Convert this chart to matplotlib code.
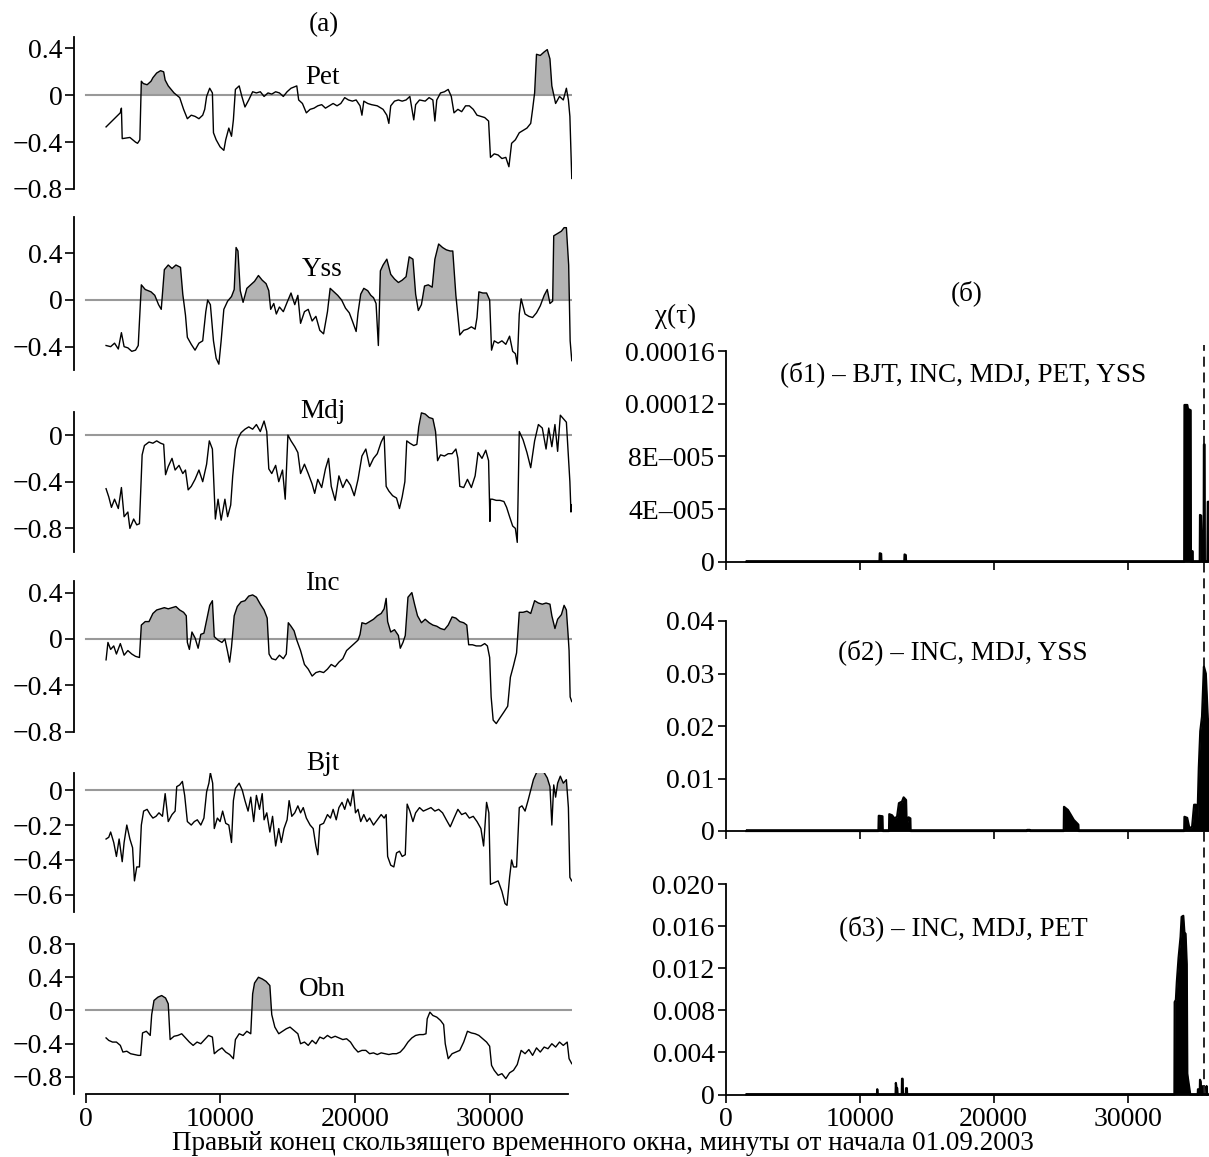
import numpy as np
import matplotlib
matplotlib.use("Agg")
import matplotlib.pyplot as plt
from matplotlib import transforms
from matplotlib.lines import Line2D

plt.rcParams['font.family'] = ['Liberation Serif', 'DejaVu Serif']

# ---------------- data: (minutes, correlation) ----------------
PET = [(1510,-0.27),(2565,-0.15),(2650,-0.11),(2710,-0.37),(3280,-0.36),(3700,-0.40),(3850,-0.41),(4020,-0.38),(4130,0.12),(4280,0.10),
       (4560,0.09),(4850,0.12),(4990,0.15),(5270,0.19),(5560,0.21),(5790,0.20),(5900,0.13),(6130,0.08),(6560,0.02),(6980,-0.02),
       (7270,-0.12),(7550,-0.20),(7840,-0.17),(8120,-0.18),(8410,-0.20),(8690,-0.17),(8840,-0.12),(8980,-0.01),(9210,0.06),(9410,0.02),
       (9490,-0.32),(9690,-0.38),(9980,-0.44),(10260,-0.47),(10400,-0.38),(10630,-0.28),(10830,-0.35),(10970,-0.21),(11120,0.05),(11400,0.08),
       (11600,-0.01),(11830,-0.10),(12110,-0.04),(12400,0.03),(12680,0.02),(12970,0.03),(13250,-0.01),(13540,0.02),(13820,0.01),(14110,0.03),
       (14390,0.02),(14680,-0.01),(14960,0.03),(15250,0.06),(15680,0.08),(15820,-0.04),(16100,-0.07),(16390,-0.15),(16670,-0.12),(16960,-0.11),
       (17240,-0.09),(17530,-0.08),(17810,-0.11),(18100,-0.09),(18380,-0.07),(18670,-0.09),(18950,-0.07),(19240,-0.02),(19520,-0.04),(19810,-0.05),
       (20090,-0.04),(20380,-0.09),(20520,-0.17),(20660,-0.05),(20950,-0.07),(21230,-0.08),(21660,-0.09),(22090,-0.12),(22370,-0.17),(22520,-0.24),
       (22660,-0.09),(22940,-0.05),(23230,-0.04),(23510,-0.05),(23800,-0.04),(24080,-0.01),(24370,-0.21),(24510,-0.08),(24800,-0.04),(25220,-0.05),
       (25510,-0.02),(25790,-0.04),(25940,-0.22),(26080,-0.04),(26360,0.02),(26650,0.03),(26930,0.05),(27160,-0.01),(27360,-0.15),(27650,-0.12),
       (27930,-0.14),(28220,-0.09),(28500,-0.09),(28790,-0.12),(29070,-0.17),(29360,-0.18),(29640,-0.19),(29930,-0.22),(30070,-0.53),(30350,-0.50),
       (30640,-0.51),(30920,-0.54),(31210,-0.53),(31440,-0.61),(31640,-0.41),(31920,-0.38),(32210,-0.32),(32490,-0.30),(32780,-0.28),(33060,-0.24),
       (33200,-0.12),(33350,0.02),(33490,0.35),(33770,0.34),(34060,0.37),(34290,0.39),(34490,0.31),(34630,0.08),(34910,-0.07),(35200,-0.01),
       (35480,-0.04),(35710,0.06),(35860,-0.04),(35970,-0.18),(36050,-0.47),(36110,-0.71)]

YSS = [(1510,-0.39),(1850,-0.40),(2140,-0.37),(2420,-0.42),(2650,-0.28),(2850,-0.40),(3130,-0.41),(3420,-0.44),(3700,-0.43),(3900,-0.39),
       (4130,0.13),(4420,0.09),(4850,0.07),(5130,0.04),(5410,-0.04),(5610,-0.08),(5840,0.26),(6130,0.30),(6410,0.27),(6700,0.30),
       (7040,0.28),(7210,0.05),(7410,-0.13),(7550,-0.32),(7840,-0.38),(8120,-0.43),(8410,-0.37),(8690,-0.35),(8920,-0.10),(9060,0.0),
       (9260,-0.04),(9490,-0.35),(9690,-0.50),(9890,-0.55),(10060,-0.35),(10260,-0.08),(10540,-0.01),(10830,0.03),(11030,0.09),(11170,0.45),
       (11310,0.42),(11480,0.08),(11690,-0.02),(11970,0.10),(12260,0.13),(12540,0.16),(12830,0.21),(13110,0.17),(13400,0.14),(13600,0.08),
       (13740,-0.08),(13970,-0.03),(14160,-0.12),(14390,-0.06),(14680,-0.10),(14960,-0.02),(15250,0.06),(15530,-0.04),(15760,0.04),(15960,-0.20),
       (16250,-0.10),(16530,-0.08),(16820,-0.18),(17100,-0.14),(17390,-0.26),(17670,-0.29),(17960,-0.10),(18160,0.10),(18440,0.07),(18720,0.04),
       (19010,0.0),(19300,-0.07),(19580,-0.11),(19810,-0.18),(20090,-0.27),(20230,-0.11),(20430,0.05),(20660,0.10),(20950,0.08),(21180,0.04),
       (21380,0.02),(21570,-0.03),(21740,-0.39),(21890,0.25),(22090,0.30),(22370,0.35),(22660,0.22),(22940,0.18),(23230,0.15),(23510,0.17),
       (23800,0.20),(24030,0.37),(24310,0.35),(24510,0.05),(24710,-0.09),(24940,-0.04),(25170,0.12),(25450,0.13),(25740,0.11),(25940,0.35),
       (26220,0.48),(26510,0.45),(26790,0.43),(27080,0.42),(27270,0.42),(27500,0.04),(27790,-0.30),(28080,-0.26),(28360,-0.25),(28650,-0.23),
       (28930,-0.25),(29070,-0.15),(29210,0.07),(29500,0.06),(29780,0.06),(30010,0.0),(30150,-0.43),(30350,-0.35),(30640,-0.37),(30920,-0.35),
       (31210,-0.38),(31490,-0.31),(31720,-0.44),(31920,-0.46),(32060,-0.55),(32210,-0.12),(32350,0.01),(32640,-0.12),(32920,-0.14),(33200,-0.15),
       (33490,-0.11),(33770,-0.05),(34060,0.04),(34290,0.09),(34490,-0.03),(34690,-0.01),(34770,0.55),(35060,0.57),(35340,0.59),(35540,0.62),
       (35710,0.62),(35880,0.30),(35990,-0.35),(36110,-0.52)]

MDJ = [(1510,-0.46),(1710,-0.53),(1910,-0.62),(2140,-0.55),(2420,-0.63),(2650,-0.45),(2850,-0.70),(3130,-0.66),(3280,-0.80),(3560,-0.72),
       (3790,-0.77),(3990,-0.76),(4190,-0.17),(4360,-0.09),(4700,-0.06),(4990,-0.07),(5270,-0.05),(5560,-0.07),(5790,-0.08),(5930,-0.34),
       (6130,-0.27),(6410,-0.20),(6640,-0.30),(6930,-0.26),(7210,-0.33),(7410,-0.30),(7610,-0.47),(7840,-0.44),(8120,-0.38),(8410,-0.30),
       (8690,-0.40),(8980,-0.25),(9180,-0.05),(9410,-0.12),(9630,-0.72),(9830,-0.55),(10060,-0.73),(10340,-0.55),(10540,-0.70),(10770,-0.60),
       (10920,-0.35),(11120,-0.12),(11310,-0.03),(11540,0.02),(11830,0.05),(12110,0.07),(12400,0.05),(12680,0.09),(12970,0.03),(13250,0.12),
       (13450,0.03),(13600,-0.29),(13820,-0.33),(14110,-0.26),(14340,-0.40),(14620,-0.30),(14820,-0.55),(15020,0.0),(15250,-0.05),(15530,-0.10),
       (15760,-0.15),(15960,-0.33),(16250,-0.25),(16530,-0.33),(16820,-0.42),(17010,-0.50),(17240,-0.38),(17530,-0.45),(17810,-0.29),(18040,-0.20),
       (18240,-0.44),(18530,-0.56),(18810,-0.35),(19100,-0.45),(19380,-0.38),(19670,-0.43),(19950,-0.52),(20230,-0.38),(20520,-0.18),(20810,-0.12),
       (21090,-0.27),(21380,-0.20),(21660,-0.16),(21950,-0.06),(22170,-0.01),(22320,-0.44),(22520,-0.48),(22800,-0.52),(23090,-0.54),(23310,-0.63),
       (23510,-0.53),(23710,-0.40),(23850,-0.05),(24080,-0.07),(24370,-0.09),(24600,-0.08),(24740,0.07),(24940,0.19),(25220,0.18),(25510,0.15),
       (25790,0.14),(25990,0.03),(26140,-0.22),(26360,-0.17),(26650,-0.18),(26930,-0.16),(27220,-0.16),(27500,-0.12),(27650,-0.20),(27790,-0.44),
       (28080,-0.45),(28360,-0.38),(28650,-0.45),(28930,-0.35),(29150,-0.15),(29440,-0.20),(29720,-0.13),(29930,-0.22),(30030,-0.74),(30070,-0.55),
       (30210,-0.55),(30500,-0.56),(30780,-0.56),(31070,-0.57),(31270,-0.62),(31490,-0.70),(31720,-0.78),(31920,-0.80),(32060,-0.92),(32210,0.03),
       (32490,-0.04),(32780,-0.15),(33060,-0.28),(33350,-0.05),(33630,0.09),(33920,0.06),(34200,-0.12),(34400,0.06),(34630,-0.10),(34860,0.09),
       (35060,-0.14),(35260,0.17),(35480,0.14),(35710,0.11),(35860,-0.18),(35970,-0.40),(36050,-0.66),(36110,-0.60)]

INC = [(1510,-0.18),(1650,-0.03),(1850,-0.09),(2080,-0.06),(2280,-0.13),(2570,-0.04),(2850,-0.14),(3130,-0.10),(3420,-0.13),(3700,-0.15),
       (3990,-0.16),(4130,0.12),(4420,0.15),(4700,0.15),(4990,0.22),(5270,0.25),(5560,0.26),(5840,0.27),(6130,0.26),(6410,0.27),
       (6700,0.28),(6980,0.25),(7270,0.23),(7470,0.20),(7550,-0.03),(7700,-0.09),(7890,0.06),(8120,0.01),(8350,-0.08),(8550,0.04),
       (8780,0.05),(8980,0.16),(9210,0.29),(9410,0.33),(9550,0.02),(9830,-0.01),(10120,-0.03),(10340,0.0),(10540,-0.11),(10690,-0.20),
       (10830,-0.07),(11030,0.20),(11260,0.28),(11540,0.32),(11830,0.33),(12110,0.37),(12400,0.38),(12680,0.36),(12970,0.30),(13250,0.25),
       (13480,0.18),(13620,-0.13),(13820,-0.17),(14110,-0.18),(14390,-0.14),(14680,-0.17),(14900,-0.13),(15050,0.14),(15250,0.11),(15480,0.07),
       (15680,-0.01),(15960,-0.10),(16250,-0.22),(16530,-0.26),(16820,-0.32),(17100,-0.29),(17390,-0.28),(17670,-0.29),(17960,-0.26),(18240,-0.22),
       (18530,-0.24),(18810,-0.20),(19100,-0.17),(19380,-0.10),(19670,-0.07),(19950,-0.04),(20230,-0.01),(20380,0.04),(20520,0.14),(20810,0.13),
       (21090,0.15),(21380,0.17),(21660,0.20),(21950,0.22),(22170,0.26),(22320,0.35),(22430,0.15),(22660,0.06),(22940,0.08),(23230,0.03),
       (23370,-0.08),(23570,-0.03),(23740,0.03),(23940,0.36),(24230,0.40),(24430,0.30),(24650,0.20),(24940,0.14),(25220,0.17),(25510,0.14),
       (25790,0.12),(26080,0.11),(26360,0.09),(26650,0.08),(26930,0.12),(27220,0.19),(27500,0.18),(27790,0.15),(28080,0.14),(28310,0.12),
       (28450,-0.05),(28730,-0.05),(29010,-0.06),(29360,-0.06),(29640,-0.04),(29840,-0.06),(30010,-0.16),(30120,-0.50),(30270,-0.70),(30500,-0.73),
       (30780,-0.68),(31070,-0.63),(31350,-0.58),(31550,-0.33),(31780,-0.23),(32010,-0.12),(32210,0.23),(32490,0.23),(32780,0.24),(33060,0.22),
       (33350,0.33),(33630,0.31),(33920,0.30),(34200,0.31),(34490,0.30),(34630,0.20),(34860,0.09),(35060,0.17),(35340,0.21),(35540,0.29),
       (35710,0.25),(35830,0.05),(35910,-0.10),(35990,-0.50),(36110,-0.54)]

BJT = [(1510,-0.28),(1710,-0.27),(1850,-0.24),(2080,-0.30),(2280,-0.38),(2480,-0.28),(2710,-0.41),(2850,-0.30),(3050,-0.20),(3280,-0.28),
       (3480,-0.33),(3620,-0.52),(3790,-0.44),(3990,-0.44),(4130,-0.20),(4300,-0.12),(4560,-0.11),(4790,-0.14),(4990,-0.16),(5220,-0.15),
       (5440,-0.13),(5700,-0.15),(5900,-0.02),(6130,-0.18),(6410,-0.14),(6640,-0.12),(6760,0.02),(6980,0.03),(7180,0.05),(7350,-0.03),
       (7550,-0.18),(7840,-0.20),(8070,-0.18),(8290,-0.17),(8550,-0.20),(8780,-0.16),(8980,-0.01),(9150,0.04),(9260,0.10),(9430,0.04),
       (9550,-0.22),(9780,-0.16),(9980,-0.18),(10170,-0.12),(10400,-0.19),(10630,-0.20),(10830,-0.30),(10970,-0.06),(11120,0.01),(11400,0.04),
       (11630,0.0),(11830,-0.06),(12060,-0.12),(12260,-0.04),(12480,-0.18),(12680,-0.03),(12910,-0.11),(13110,-0.02),(13250,-0.17),(13450,-0.13),
       (13680,-0.24),(13880,-0.15),(14110,-0.32),(14340,-0.22),(14530,-0.30),(14730,-0.22),(14960,-0.17),(15110,-0.06),(15310,-0.15),(15530,-0.13),
       (15760,-0.09),(15960,-0.13),(16160,-0.10),(16390,-0.16),(16670,-0.20),(16900,-0.22),(17100,-0.32),(17240,-0.37),(17390,-0.20),(17670,-0.19),
       (17960,-0.14),(18180,-0.16),(18380,-0.11),(18610,-0.17),(18810,-0.10),(19040,-0.07),(19240,-0.11),(19460,-0.05),(19670,-0.09),(19870,0.00),
       (20040,-0.13),(20230,-0.11),(20430,-0.18),(20660,-0.14),(20890,-0.18),(21090,-0.16),(21380,-0.20),(21660,-0.17),(21950,-0.14),(22170,-0.16),
       (22320,-0.14),(22430,-0.38),(22660,-0.43),(22890,-0.44),(23090,-0.36),(23310,-0.35),(23510,-0.38),(23740,-0.37),(23880,-0.08),(24080,-0.12),
       (24310,-0.18),(24510,-0.13),(24800,-0.10),(25080,-0.12),(25370,-0.11),(25650,-0.10),(25940,-0.12),(26220,-0.11),(26510,-0.13),(26790,-0.17),
       (27080,-0.21),(27360,-0.16),(27650,-0.11),(27930,-0.14),(28220,-0.13),(28500,-0.16),(28790,-0.15),(29070,-0.18),(29360,-0.22),(29560,-0.32),
       (29780,-0.07),(29950,-0.13),(30070,-0.54),(30350,-0.53),(30640,-0.52),(30920,-0.58),(31150,-0.65),(31300,-0.66),(31490,-0.50),(31640,-0.40),
       (31780,-0.44),(32010,-0.44),(32210,-0.10),(32410,-0.09),(32640,-0.12),(32860,-0.06),(33060,0.00),(33260,0.06),(33490,0.10),(33770,0.11),
       (34060,0.10),(34290,0.07),(34490,0.02),(34630,-0.20),(34770,0.03),(34910,-0.04),(35060,0.04),(35260,0.08),(35480,0.04),(35710,0.06),
       (35860,-0.10),(35970,-0.50),(36110,-0.52)]

OBN = [(1510,-0.33),(1710,-0.36),(1990,-0.38),(2280,-0.38),(2570,-0.42),(2760,-0.50),(3050,-0.49),(3330,-0.52),(3620,-0.53),(3900,-0.54),
       (4080,-0.54),(4220,-0.27),(4500,-0.25),(4790,-0.30),(4900,-0.05),(5070,0.12),(5360,0.16),(5640,0.18),(5930,0.15),(6130,0.08),
       (6270,-0.35),(6560,-0.31),(6840,-0.30),(7130,-0.28),(7410,-0.33),(7700,-0.38),(7980,-0.42),(8270,-0.38),(8550,-0.40),(8840,-0.35),
       (9120,-0.30),(9410,-0.32),(9550,-0.52),(9830,-0.48),(10120,-0.45),(10400,-0.50),(10690,-0.53),(10970,-0.58),(11120,-0.35),(11400,-0.28),
       (11690,-0.30),(11970,-0.25),(12260,-0.28),(12400,0.20),(12540,0.33),(12830,0.40),(13110,0.38),(13400,0.35),(13680,0.30),(13820,-0.05),
       (14050,-0.20),(14340,-0.28),(14620,-0.25),(14900,-0.22),(15180,-0.20),(15470,-0.24),(15760,-0.28),(15960,-0.40),(16250,-0.38),(16530,-0.42),
       (16820,-0.36),(17100,-0.40),(17390,-0.32),(17670,-0.34),(17960,-0.30),(18240,-0.33),(18530,-0.31),(18810,-0.33),(19100,-0.35),(19380,-0.34),
       (19670,-0.38),(19950,-0.45),(20230,-0.50),(20520,-0.48),(20810,-0.48),(21090,-0.52),(21380,-0.51),(21660,-0.53),(21950,-0.51),(22230,-0.52),
       (22520,-0.53),(22800,-0.52),(23090,-0.52),(23370,-0.50),(23650,-0.45),(23940,-0.38),(24230,-0.33),(24510,-0.30),(24800,-0.29),(25080,-0.29),
       (25280,-0.28),(25370,-0.10),(25570,-0.02),(25790,-0.06),(26080,-0.08),(26360,-0.12),(26590,-0.17),(26710,-0.40),(26930,-0.58),(27220,-0.52),
       (27500,-0.50),(27790,-0.48),(28080,-0.38),(28360,-0.25),(28650,-0.27),(28930,-0.28),(29210,-0.30),(29500,-0.34),(29780,-0.38),(30010,-0.43),
       (30150,-0.66),(30350,-0.72),(30640,-0.78),(30920,-0.76),(31210,-0.82),(31490,-0.75),(31780,-0.72),(32060,-0.65),(32350,-0.48),(32640,-0.52),
       (32920,-0.47),(33200,-0.54),(33490,-0.45),(33770,-0.50),(34060,-0.44),(34340,-0.46),(34630,-0.40),(34910,-0.44),(35200,-0.38),(35480,-0.42),
       (35770,-0.38),(35910,-0.58),(36110,-0.64)]

# intervals in which positive correlation is shaded
PET_FILL = [(4100, 6700), (33300, 34700)]
YSS_FILL = [(0, 37000)]
MDJ_FILL = [(24700, 26100)]
INC_FILL = [(0, 37000)]
BJT_FILL = [(32900, 36000)]
OBN_FILL = [(4900, 6300), (12400, 13820)]

LEFT_NAMES = ["Pet", "Yss", "Mdj", "Inc", "Bjt", "Obn"]
LEFT_YLIM = [(-0.8, 0.5), (-0.6, 0.714), (-1.0, 0.2), (-0.8, 0.5), (-0.7, 0.1), (-1.0, 0.8)]
LEFT_TICKS = [[0.4, 0, -0.4, -0.8], [0.4, 0, -0.4], [0, -0.4, -0.8], [0.4, 0, -0.4, -0.8],
              [0, -0.2, -0.4, -0.6], [0.8, 0.4, 0, -0.4, -0.8]]
X_TICKS = [0, 10000, 20000, 30000]

# chi(tau) series: (minutes, value)
CHI1 = [(1540,0),(11480,0),(11500,6.4e-6),(11600,6.0e-6),(11620,0),(13330,0),(13350,5.5e-6),(13440,5.0e-6),(13460,0),
        (34220,0),(34240,1.19e-4),(34450,1.19e-4),(34500,1.16e-4),(34700,1.15e-4),(34720,0),(34790,0),(34810,8e-6),(34840,8e-6),(34860,0),
        (35380,0),(35400,3.55e-5),(35480,3.5e-5),(35510,2.3e-5),(35600,2.3e-5),(35630,0),(35670,0),(35690,8.9e-5),(35740,8.9e-5),(35760,0),
        (35950,0),(35980,4.55e-5),(36070,4.55e-5)]
CHI2 = [(1540,0),(11400,0),(11425,0.0029),(11700,0.0028),(11720,0),(12190,0),(12210,0.0032),(12410,0.0030),(12590,0.0024),(12790,0.0027),
        (12930,0.0053),(13160,0.0056),(13280,0.0064),(13460,0.0059),(13510,0.0010),(13650,0.0026),(13780,0.0024),(13800,0),
        (22480,0),(22500,0.0002),(22700,0.0002),(22720,0),(25230,0),(25250,0.0046),(25540,0.0040),(25750,0.0031),(25980,0.0021),
        (26210,0.0015),(26320,0.0012),(26340,0),(34220,0),(34240,0.0027),(34440,0.0025),(34610,0.0005),(34810,0.0008),(34960,0.0050),
        (35100,0.0050),(35190,0.0003),(35310,0.012),(35420,0.019),(35550,0.0218),(35690,0.0313),(35830,0.030),(35980,0.0215),(36070,0.020)]
CHI3 = [(1540,0),(11290,0),(11310,0.0005),(11340,0),(12680,0),(12700,0.0011),(12750,0.0006),(12800,0.0006),(12830,0),
        (13140,0),(13160,0.0015),(13200,0.0015),(13230,0),(13440,0),(13460,0.0006),(13520,0.0006),(13540,0),
        (33490,0),(33510,0.0088),(33600,0.0090),(33670,0.0107),(33800,0.0130),(33950,0.0150),(34030,0.0169),(34150,0.0170),
        (34240,0.0153),(34320,0.0153),(34410,0.0124),(34450,0.0020),(34500,0.0015),(34580,0.0008),(34670,0),
        (35230,0),(35250,0.0005),(35280,0),(35380,0),(35400,0.0014),(35450,0.0012),(35480,0),(35530,0),(35550,0.0008),(35580,0),
        (35870,0),(35890,0.0008),(35930,0)]

CHI_YLIM = [1.6e-4, 0.04, 0.02]
CHI_TICKS = [[0, 4e-5, 8e-5, 1.2e-4, 1.6e-4], [0, 0.01, 0.02, 0.03, 0.04], [0, 0.004, 0.008, 0.012, 0.016, 0.020]]
CHI_TICKLABELS = [["0", "4E–005", "8E–005", "0.00012", "0.00016"],
                  ["0", "0.01", "0.02", "0.03", "0.04"],
                  ["0", "0.004", "0.008", "0.012", "0.016", "0.020"]]
CHI_TITLES = ["(б1) – BJT, INC, MDJ, PET, YSS", "(б2) – INC, MDJ, YSS", "(б3) – INC, MDJ, PET"]
EVENT_T = 35690

# ---------------- figure ----------------
W, H = 1209, 1157
fig = plt.figure(figsize=(W / 100, H / 100), dpi=100)

def px_axes(left, top, right, bottom):
    return fig.add_axes([left / W, 1 - bottom / H, (right - left) / W, (bottom - top) / H])

FS = 20      # tick labels
LFS = 19.5   # labels

left_boxes = [(36.7, 189), (216.7, 370), (411.7, 551.7), (581, 731.7), (772.7, 912.3), (944, 1093.6)]
left_label_y = [77, 270, 411.7, 584, 764, 990]
series = [PET, YSS, MDJ, INC, BJT, OBN]
fills = [PET_FILL, YSS_FILL, MDJ_FILL, INC_FILL, BJT_FILL, OBN_FILL]

def fmt(v):
    s = f"{v:g}"
    return s.replace("-", "\u2212")

for i, (box, data) in enumerate(zip(left_boxes, series)):
    ax = px_axes(74.3, box[0], 571.9, box[1])
    x = np.array([p[0] for p in data], dtype=float)
    y = np.array([p[1] for p in data], dtype=float)
    mask = np.zeros_like(x, dtype=bool)
    for a, b in fills[i]:
        mask |= (x >= a) & (x <= b)
    ax.fill_between(x, 0, y, where=mask & (y >= 0), interpolate=True,
                    color="#b3b3b3", linewidth=0, zorder=1)
    ax.plot([0, 36110], [0, 0], color="#999999", lw=1.5, zorder=2)
    ax.plot(x, y, color="black", lw=1.0, zorder=3)
    ax.set_xlim(-850, 36120)
    ax.set_ylim(*LEFT_YLIM[i])
    ax.set_yticks(LEFT_TICKS[i])
    ax.set_yticklabels([fmt(v) for v in LEFT_TICKS[i]])
    for s in ["top", "right"]:
        ax.spines[s].set_visible(False)
    ax.spines["left"].set_linewidth(1.3)
    ax.tick_params(axis="y", direction="out", length=6.5, width=1.2, labelsize=FS, pad=2)
    if i == len(series) - 1:
        ax.spines["bottom"].set_bounds(0, 35810)
        ax.spines["bottom"].set_linewidth(1.3)
        ax.set_xticks(X_TICKS)
        ax.set_xticklabels([str(t) for t in X_TICKS])
        ax.tick_params(axis="x", direction="out", length=6.5, width=1.2, labelsize=FS, pad=3)
    else:
        ax.spines["bottom"].set_visible(False)
        ax.set_xticks([])
    ax.patch.set_alpha(0)
    fig.text(322.6 / W, 1 - left_label_y[i] / H, LEFT_NAMES[i], ha="center", va="center", fontsize=LFS)

right_boxes = [(351, 561.7), (621, 831), (884.3, 1094.5)]
right_title_y = [374, 651.7, 928.3]
chis = [CHI1, CHI2, CHI3]
raxes = []
for i, (box, data) in enumerate(zip(right_boxes, chis)):
    ax = px_axes(725.7, box[0], 1209, box[1])
    raxes.append(ax)
    x = np.array([p[0] for p in data], dtype=float)
    y = np.array([p[1] for p in data], dtype=float)
    ax.fill_between(x, 0, y, color="black", linewidth=0, zorder=2)
    ax.plot(x, y, color="black", lw=1.6, zorder=3, clip_on=False)
    ax.plot([x[0], 36070], [0, 0], color="black", lw=2.6, zorder=3, solid_capstyle="butt")
    ax.set_xlim(0, 36070)
    ax.set_ylim(0, CHI_YLIM[i])
    ax.set_yticks(CHI_TICKS[i])
    ax.set_yticklabels(CHI_TICKLABELS[i])
    ax.set_xticks(X_TICKS)
    if i == 2:
        ax.set_xticklabels([str(t) for t in X_TICKS])
    else:
        ax.set_xticklabels([])
    for s in ["top", "right"]:
        ax.spines[s].set_visible(False)
    ax.spines["left"].set_linewidth(1.3)
    ax.spines["bottom"].set_linewidth(1.3)
    ax.tick_params(direction="out", length=6.0, width=1.2, labelsize=FS, pad=2)
    ax.tick_params(axis="x", pad=3)
    ax.patch.set_alpha(0)
    fig.text(963 / W, 1 - right_title_y[i] / H, CHI_TITLES[i], ha="center", va="center", fontsize=LFS)

# dashed event line through all chi panels
trans = transforms.blended_transform_factory(raxes[0].transData, fig.transFigure)
fig.add_artist(Line2D([EVENT_T, EVENT_T], [1 - 1094.5 / H, 1 - 345 / H], transform=trans,
                      color="black", lw=1.2, linestyle=(0, (6, 3.5))))

fig.text(323.4 / W, 1 - 25 / H, "(a)", ha="center", va="center", fontsize=LFS)
fig.text(967 / W, 1 - 293.3 / H, "(б)", ha="center", va="center", fontsize=LFS)
fig.text(675.7 / W, 1 - 316.7 / H, "χ(τ)", ha="center", va="center", fontsize=LFS)
fig.text(603 / W, 1 - 1144 / H, "Правый конец скользящего временного окна, минуты от начала 01.09.2003",
         ha="center", va="center", fontsize=LFS)

fig.savefig("out.png", dpi=100)
